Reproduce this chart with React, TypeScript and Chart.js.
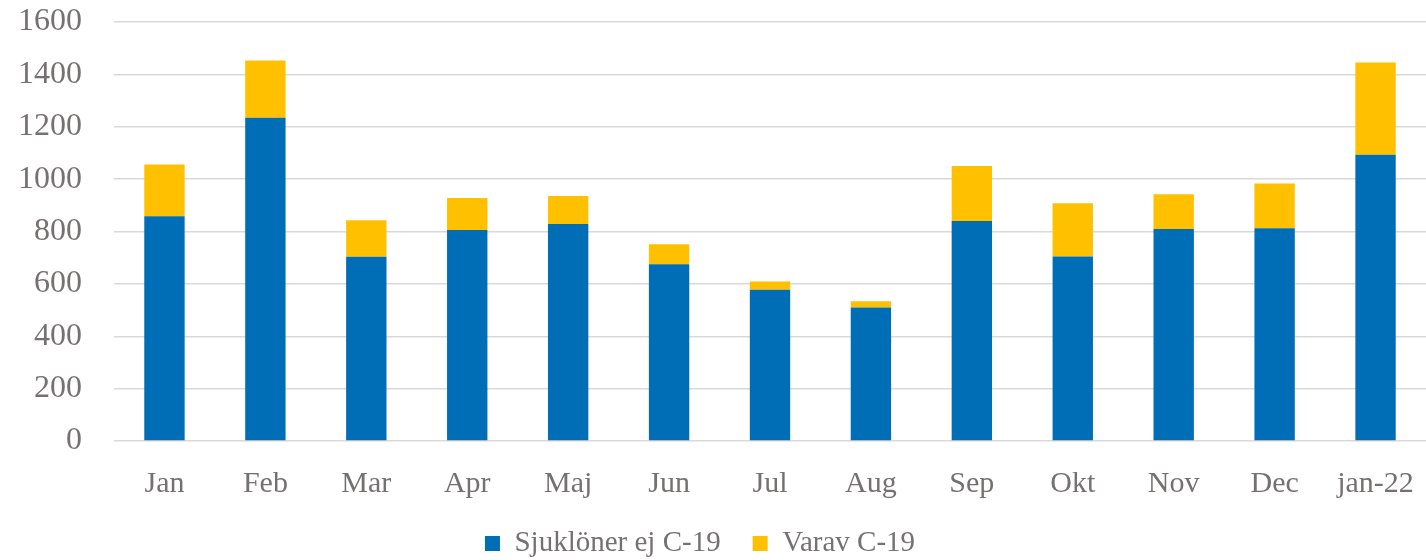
import React, { useEffect, useRef } from "react";
import { Chart, registerables } from "chart.js";

Chart.register(...registerables);

const categories = ["Jan", "Feb", "Mar", "Apr", "Maj", "Jun", "Jul", "Aug", "Sep", "Okt", "Nov", "Dec", "jan-22"];
const sjuklonerEjC19 = [858, 1234, 704, 806, 829, 675, 578, 510, 840, 705, 810, 812, 1093];
const varavC19 = [198, 219, 139, 122, 107, 76, 31, 24, 210, 203, 132, 171, 352];
const yTicks = [0, 200, 400, 600, 800, 1000, 1200, 1400, 1600];

const TEXT = "#767171";
const FONT = "'Liberation Serif', 'DejaVu Serif', serif";

const legendShift = {
  id: "legendShift",
  afterLayout(chart: any) {
    const lg = chart.legend;
    if (lg) {
      lg.left -= 13;
      lg.right -= 13;
      lg.top -= 22;
      lg.bottom -= 22;
    }
  },
};

export default function App() {
  const ref = useRef<HTMLCanvasElement | null>(null);
  useEffect(() => {
    document.body.style.margin = "0";
    const canvas = ref.current!;
    const chart = new Chart(canvas, {
      type: "bar",
      data: {
        labels: categories,
        datasets: [
          {
            label: "Sjuklöner ej C-19",
            data: sjuklonerEjC19,
            backgroundColor: "#006EB6",
            barPercentage: 0.4,
            categoryPercentage: 1,
          },
          {
            label: "Varav C-19",
            data: varavC19,
            backgroundColor: "#FFC000",
            barPercentage: 0.4,
            categoryPercentage: 1,
          },
        ],
      },
      plugins: [legendShift],
      options: {
        responsive: false,
        animation: false,
        layout: { padding: { top: 0, right: 0, left: 0, bottom: -30 } },
        plugins: {
          tooltip: { enabled: false },
          legend: {
            position: "bottom",
            labels: {
              color: TEXT,
              font: { family: FONT, size: 29 },
              boxWidth: 15,
              boxHeight: 15,
              padding: 32,
            },
          },
        },
        scales: {
          x: {
            stacked: true,
            grid: { display: false },
            border: { display: false },
            afterFit: (axis: any) => {
              axis.paddingRight = 0;
              axis.paddingLeft = 0;
            },
            ticks: { color: TEXT, font: { family: FONT, size: 30 }, padding: 17 },
          },
          y: {
            stacked: true,
            min: 0,
            max: 1600,
            afterBuildTicks: (axis: any) => {
              axis.ticks = yTicks.map((v) => ({ value: v }));
            },
            afterFit: (axis: any) => {
              axis.paddingTop = 22;
              axis.width = 114;
            },
            grid: { color: "#d9d9d9", lineWidth: 1.5, drawTicks: false },
            border: { display: false },
            ticks: {
              color: TEXT,
              font: { family: FONT, size: 32 },
              padding: 32,
              callback: (v: any) => String(v),
            },
          },
        },
      },
    });
    return () => chart.destroy();
  }, []);
  return <canvas ref={ref} width={1426} height={560} style={{ display: "block" }} />;
}
